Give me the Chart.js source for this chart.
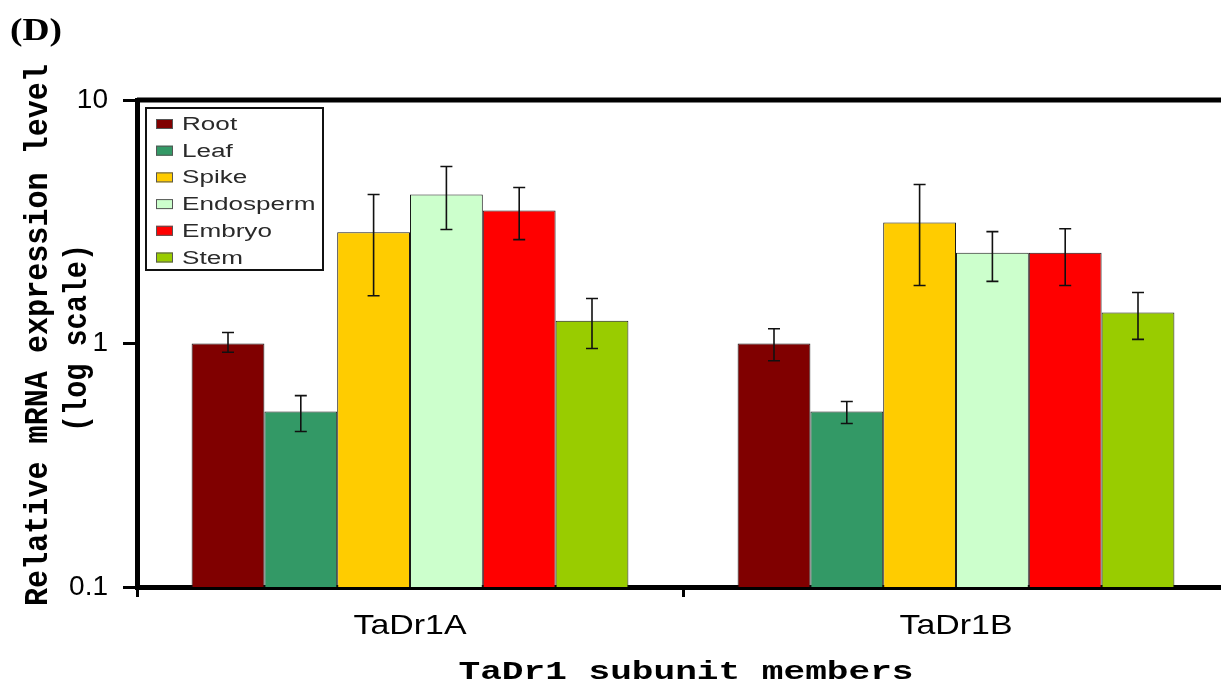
<!DOCTYPE html>
<html lang="en">
<head>
    <meta charset="UTF-8">
    <title>TaDr1 expression</title>
    <style>
        body {
            margin: 0;
            background: #fff;
            overflow: hidden;
        }
        .container {
            position: relative;
            width: 1240px;
            height: 686px;
        }
    </style>
</head>
<body>
    <div class="container">
        <canvas id="myChart" width="1240" height="686"></canvas>
    </div>
    <script src="https://cdn.jsdelivr.net/npm/chart.js"></script>
    <script>
        // categories and tissues
        const members = ['TaDr1A', 'TaDr1B'];
        const tissues = ['Root', 'Leaf', 'Spike', 'Endosperm', 'Embryo', 'Stem'];
        const tissueColors = ['#800000', '#339966', '#ffcc00', '#ccffcc', '#ff0000', '#99cc00'];

        // relative expression
        const rootValues = [1.0, 1.0];
        const leafValues = [0.526, 0.526];
        const spikeValues = [2.86, 3.14];
        const endospermValues = [4.09, 2.36];
        const embryoValues = [3.52, 2.36];
        const stemValues = [1.24, 1.34];

        // error bar low / high ends
        const rootLow = [0.92, 0.85], rootHigh = [1.11, 1.15];
        const leafLow = [0.435, 0.469], leafHigh = [0.611, 0.578];
        const spikeLow = [1.57, 1.73], spikeHigh = [4.09, 4.50];
        const endospermLow = [2.94, 1.80], endospermHigh = [5.33, 2.88];
        const embryoLow = [2.67, 1.73], embryoHigh = [4.37, 2.96];
        const stemLow = [0.954, 1.04], stemHigh = [1.53, 1.62];

        const yTicks = [0.1, 1, 10];

        const seriesValues = [rootValues, leafValues, spikeValues, endospermValues, embryoValues, stemValues];
        const seriesLow = [rootLow, leafLow, spikeLow, endospermLow, embryoLow, stemLow];
        const seriesHigh = [rootHigh, leafHigh, spikeHigh, endospermHigh, embryoHigh, stemHigh];

        const datasets = tissues.map((t, i) => ({
            label: t,
            data: seriesValues[i],
            low: seriesLow[i],
            high: seriesHigh[i],
            backgroundColor: tissueColors[i],
            borderColor: '#1a1a1a',
            borderWidth: 1,
            categoryPercentage: 0.8,
            barPercentage: 1.0
        }));

        // draws text squeezed/stretched to a given length
        function fitText(ctx, text, x, y, font, width, angle, align) {
            ctx.save();
            ctx.font = font;
            const w = ctx.measureText(text).width;
            ctx.translate(x, y);
            if (angle) ctx.rotate(angle);
            ctx.scale(width / w, 1);
            ctx.textAlign = align || 'center';
            ctx.textBaseline = 'alphabetic';
            ctx.fillText(text, 0, 0);
            ctx.restore();
        }

        const sans = '"Liberation Sans", Arial, sans-serif';

        const extras = {
            id: 'extras',
            afterDatasetsDraw(chart) {
                const ctx = chart.ctx;
                const y = chart.scales.y;
                ctx.save();
                ctx.strokeStyle = '#111';
                ctx.lineWidth = 1.6;
                chart.data.datasets.forEach((ds, i) => {
                    chart.getDatasetMeta(i).data.forEach((bar, j) => {
                        const yl = y.getPixelForValue(ds.low[j]);
                        const yh = y.getPixelForValue(ds.high[j]);
                        ctx.beginPath();
                        ctx.moveTo(bar.x, yl); ctx.lineTo(bar.x, yh);
                        ctx.moveTo(bar.x - 6, yl); ctx.lineTo(bar.x + 6, yl);
                        ctx.moveTo(bar.x - 6, yh); ctx.lineTo(bar.x + 6, yh);
                        ctx.stroke();
                    });
                });
                ctx.restore();
            },
            afterDraw(chart) {
                const ctx = chart.ctx;
                const a = chart.chartArea;
                const x = chart.scales.x;
                ctx.save();
                // top frame line
                ctx.strokeStyle = '#000';
                ctx.lineWidth = 5;
                ctx.beginPath();
                ctx.moveTo(a.left, a.top);
                ctx.lineTo(chart.width, a.top);
                ctx.stroke();

                // category labels
                ctx.fillStyle = '#000';
                members.forEach((m, i) => {
                    fitText(ctx, m, x.getPixelForTick(i), 634, '28px ' + sans, 113, 0);
                });

                // legend box
                ctx.fillStyle = '#fff';
                ctx.fillRect(146, 108, 177, 162);
                ctx.lineWidth = 2;
                ctx.strokeStyle = '#111';
                ctx.strokeRect(146, 108, 177, 162);
                tissues.forEach((t, i) => {
                    const cy = 124 + i * 26.7;
                    ctx.fillStyle = tissueColors[i];
                    ctx.fillRect(156, cy - 5, 17, 10);
                    ctx.lineWidth = 1;
                    ctx.strokeStyle = '#555';
                    ctx.strokeRect(156.5, cy - 4.5, 16, 9);
                    ctx.fillStyle = '#2a2a2a';
                    ctx.save();
                    ctx.font = '18px ' + sans;
                    const w = ctx.measureText(t).width;
                    ctx.restore();
                    fitText(ctx, t, 182, cy + 6, '18px ' + sans, w * 1.45, 0, 'left');
                });

                // panel letter
                ctx.fillStyle = '#000';
                fitText(ctx, '(D)', 36, 40, 'bold 32px "Liberation Serif", "Times New Roman", serif', 52, 0);

                // axis titles
                const mono = 'bold 34px "Liberation Mono", "Courier New", monospace';
                fitText(ctx, 'Relative mRNA expression level', 47, 335, mono, 542, -Math.PI / 2);
                fitText(ctx, '(log scale)', 86, 338, mono, 188, -Math.PI / 2);
                fitText(ctx, 'TaDr1 subunit members', 686, 679, 'bold 25px "Liberation Mono", "Courier New", monospace', 455, 0);
                ctx.restore();
            }
        };

        const ctx = document.getElementById('myChart').getContext('2d');

        new Chart(ctx, {
            type: 'bar',
            data: { labels: members, datasets: datasets },
            options: {
                responsive: false,
                animation: false,
                layout: { padding: { left: 0, right: 11, top: 100, bottom: 0 } },
                plugins: {
                    legend: { display: false },
                    tooltip: { enabled: false }
                },
                scales: {
                    x: {
                        grid: {
                            drawOnChartArea: false,
                            drawTicks: true,
                            tickLength: 10,
                            color: '#000',
                            lineWidth: 3
                        },
                        border: { display: true, color: '#000', width: 5 },
                        ticks: { display: false },
                        afterFit(scale) { scale.height = 99; }
                    },
                    y: {
                        type: 'logarithmic',
                        min: 0.1,
                        max: 10,
                        grid: {
                            drawOnChartArea: false,
                            drawTicks: true,
                            tickLength: 14,
                            color: '#000',
                            lineWidth: 3
                        },
                        border: { display: true, color: '#000', width: 5 },
                        ticks: {
                            color: '#000',
                            padding: 15,
                            font: { family: sans, size: 28 },
                            callback: v => String(v)
                        },
                        afterBuildTicks(scale) {
                            scale.ticks = yTicks.map(v => ({ value: v }));
                        },
                        afterFit(scale) { scale.width = 137; }
                    }
                }
            },
            plugins: [extras]
        });
    </script>
</body>
</html>
